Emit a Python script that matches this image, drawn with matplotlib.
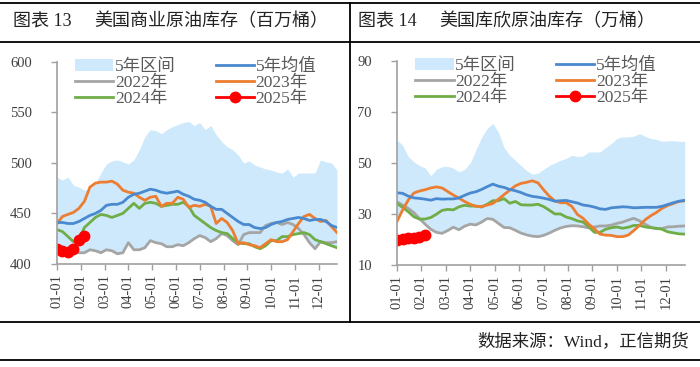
import numpy as np
import matplotlib
matplotlib.use('Agg')
import matplotlib.pyplot as plt
from matplotlib.lines import Line2D
from matplotlib.patches import Patch

plt.rcParams['font.family'] = ['Liberation Serif', 'Noto Sans CJK SC']

month_labels = ['01-01', '02-01', '03-01', '04-01', '05-01', '06-01',
                '07-01', '08-01', '09-01', '10-01', '11-01', '12-01']

# --- 美国商业原油库存（百万桶）, weekly ---
com_hi = [486, 483, 486, 478, 476, 473, 474, 480, 490, 499, 502, 503, 501, 499, 503, 513,
          526, 533, 532, 529, 533, 536, 538, 540, 541, 537, 540, 533, 537, 528, 521, 516,
          513, 508, 500, 502, 498, 496, 494, 493, 491, 490, 494, 486, 490, 490, 490, 490,
          503, 501, 500, 493]
com_lo = [415, 414, 413, 412, 411, 411, 414, 413, 411, 414, 413, 410, 411, 421, 414, 414,
          416, 423, 421, 420, 417, 417, 419, 418, 421, 425, 428, 426, 422, 425, 430, 427,
          423, 419, 420, 419, 417, 415, 418, 423, 422, 422, 424, 429, 430, 429, 421, 415,
          421, 420, 418, 416]
com_avg = [441, 441, 440, 440, 442, 445, 448, 450, 453, 458, 459, 459, 461, 466, 469, 470,
           472, 474, 473, 471, 470, 471, 472, 469, 467, 464, 463, 461, 457, 454, 454, 450,
           446, 442, 439, 439, 436, 435, 436, 439, 441, 442, 444, 445, 446, 445, 443, 444,
           444, 442, 438, 436]
com_2022 = [416, 415, 413, 412, 411, 411, 414, 413, 411, 414, 413, 410, 411, 421, 414, 414,
            416, 423, 421, 420, 417, 417, 419, 418, 421, 425, 428, 426, 422, 425, 430, 428,
            423, 419, 429, 431, 431, 431, 438, 440, 441, 439, 441, 439, 435, 429, 421, 415,
            422, 421, 421, 422]
com_2023 = [440, 447, 449, 451, 455, 462, 476, 480, 481, 481, 482, 479, 473, 471, 470, 466,
            463, 466, 467, 457, 460, 460, 466, 464, 456, 458, 457, 459, 457, 440, 445, 441,
            433, 420, 421, 419, 418, 416, 420, 424, 422, 422, 424, 432, 440, 447, 449, 445,
            442, 443, 437, 431]
com_2024 = [434, 432, 427, 422, 424, 436, 441, 446, 449, 448, 446, 448, 450, 455, 460, 455,
            460, 461, 460, 457, 458, 459, 459, 461, 457, 448, 444, 440, 436, 433, 431, 430,
            425, 421, 420, 420, 417, 415, 418, 423, 423, 427, 427, 429, 430, 431, 429, 424,
            422, 420, 418, 416]
com_2025 = [415, 413, 412, 415, 424, 428]

# --- 美国库欣原油库存（万桶）, weekly ---
cus_hi = [59, 57, 52.5, 50.5, 49, 48, 45, 47.5, 48.5, 48.7, 48, 46.5, 47.5, 50, 55, 60,
          63.5, 65.5, 62, 56, 53, 51, 49, 47, 45.6, 46, 47.5, 49, 50, 51, 51.8, 53,
          52.5, 52.7, 54.3, 54.3, 54.3, 56, 57.6, 59.6, 60.2, 60.2, 60.5, 61.5, 60.5, 59.6,
          59.2, 58.5, 58.7, 58.7, 58.5, 58.4]
cus_lo = [27, 31.5, 32, 29, 28, 26, 24, 22.8, 22.4, 23.5, 24.8, 23.8, 25.2, 26, 25.7, 26.8,
          28.2, 27.9, 26.3, 24.7, 24.6, 23.6, 22.5, 21.8, 21.3, 21.1, 21.6, 22.5, 23.6, 24.5,
          25.1, 25.4, 25.3, 25, 24.5, 22.8, 22.1, 21.7, 21.6, 21.1, 21.1, 21.7, 23.5, 25.5,
          24.9, 24.6, 24.2, 24, 23, 22.6, 22.2, 22.1]
cus_avg = [38.3, 38.1, 37, 36.3, 36.1, 35.8, 35.4, 36, 35.8, 35.9, 35.9, 36.3, 37.3, 38.2,
           38.7, 39.6, 40.7, 41.7, 40.9, 40.4, 39.6, 39.1, 38.4, 37.5, 36.9, 36.6, 36.2, 35.7,
           35, 35.2, 35.3, 34.8, 34.3, 33.5, 33.2, 32.7, 32, 31.8, 32.4, 32.6, 32.8, 32.7,
           32.4, 32.5, 32.6, 32.6, 32.6, 33, 33.7, 34.4, 35, 35.3]
cus_2022 = [34.8, 33.5, 32.2, 30.5, 28.2, 26, 24, 22.8, 22.4, 23.5, 24.8, 23.8, 25.2, 26,
            25.7, 26.8, 28.2, 27.9, 26.3, 24.7, 24.6, 23.6, 22.5, 21.8, 21.3, 21.1, 21.6,
            22.5, 23.6, 24.5, 25.1, 25.4, 25.3, 25, 24.5, 24.9, 25.3, 25.3, 25.6, 26.3, 26.8,
            27.6, 28.3, 27.3, 26, 24.8, 24.2, 24.3, 24.9, 25, 25.2, 25.3]
cus_2023 = [27, 31.5, 35.4, 38.2, 39, 39.5, 40.2, 40.6, 40.2, 38.8, 37.4, 36.2, 34.9, 33.8,
            33, 32.9, 33.5, 34.1, 35.8, 37.6, 39.3, 41, 42, 42.4, 43, 42.2, 39.5, 37, 35.1,
            34.4, 34.4, 33, 29.8, 28.3, 26, 24.2, 22.1, 21.7, 21.6, 21.1, 21.1, 21.7, 23.5,
            25.5, 27.7, 29.3, 30.6, 32.2, 33.3, 34.1, 34.9, 35.2]
cus_2024 = [34.1, 32.6, 30.9, 28.9, 28, 28, 28.6, 29.9, 31.4, 31.8, 31.6, 32.8, 33.4, 33.1,
            33.1, 32.7, 33.8, 35.2, 35.2, 36, 34.2, 34.9, 33.6, 33.5, 33.5, 33.8, 32.9, 31.5,
            30, 30, 28.8, 28.2, 27.3, 26.8, 25, 22.8, 22.8, 24, 24.6, 24.9, 24.4, 24.8, 25.5,
            25.5, 24.9, 24.6, 24.4, 24, 23, 22.6, 22.2, 22.1]
cus_2025 = [19.6, 20.3, 20.5, 20.7, 21.0, 21.8]

C_BAND = '#CDE9FB'
C_AVG = '#4A89CF'
C_22 = '#A5A5A5'
C_23 = '#ED7D31'
C_24 = '#70AD47'
C_25 = '#FF0000'
LW = 2.0
MS = 7.5


def draw(ax, hi, lo, avg, y22, y23, y24, y25, ylim, yticks):
    x = np.arange(len(hi))
    ax.fill_between(x, lo, hi, color=C_BAND, lw=0)
    ax.plot(x, y22, color=C_22, lw=LW)
    ax.plot(x, y24, color=C_24, lw=LW)
    ax.plot(x, y23, color=C_23, lw=LW)
    ax.plot(x, avg, color=C_AVG, lw=LW)
    ax.plot(np.arange(len(y25)), y25, color=C_25, lw=LW, marker='o', ms=MS)
    ax.set_xlim(0, len(hi) - 1)
    ax.set_ylim(*ylim)
    ax.set_yticks(yticks)
    ax.set_xticks(np.arange(12) * 52 / 12)
    ax.set_xticklabels(month_labels, rotation=90)
    for s in ['top', 'right']:
        ax.spines[s].set_visible(False)
    for s in ['left', 'bottom']:
        ax.spines[s].set_color('#A0A0A0')
        ax.spines[s].set_linewidth(1.2)
    ax.tick_params(axis='both', colors='#A0A0A0', labelcolor='#404040',
                   labelsize=10.5, length=4, width=1)
    ax.tick_params(axis='y', pad=14)

    handles = [Patch(facecolor=C_BAND, edgecolor='none'),
               Line2D([], [], color=C_22, lw=LW),
               Line2D([], [], color=C_24, lw=LW),
               Line2D([], [], color=C_AVG, lw=LW),
               Line2D([], [], color=C_23, lw=LW),
               Line2D([], [], color=C_25, lw=LW, marker='o', ms=MS)]
    labels = ['5年区间', '2022年', '2024年', '5年均值', '2023年', '2025年']
    ax.legend(handles, labels, ncol=2, loc='upper left', bbox_to_anchor=(0.04, 1.05),
              frameon=False, fontsize=12.5, labelspacing=0.0, handlelength=2.2,
              handletextpad=0.1, columnspacing=2.3, borderaxespad=0,
              labelcolor='#595959')


fig = plt.figure(figsize=(7, 3.67), dpi=100)
ax1 = fig.add_axes([0.0814, 0.281, 0.40, 0.550])
ax2 = fig.add_axes([0.567, 0.278, 0.411, 0.556])

draw(ax1, com_hi, com_lo, com_avg, com_2022, com_2023, com_2024, com_2025,
     (400, 600), [400, 450, 500, 550, 600])
draw(ax2, cus_hi, cus_lo, cus_avg, cus_2022, cus_2023, cus_2024, cus_2025,
     (10, 90), [10, 30, 50, 70, 90])

# frame lines
lk = dict(color='black', lw=1.3, transform=fig.transFigure)
fig.add_artist(Line2D([0, 1], [0.992, 0.992], **lk))
fig.add_artist(Line2D([0, 1], [0.886, 0.886], **lk))
fig.add_artist(Line2D([0.5, 0.5], [0.122, 0.992], **lk))
fig.add_artist(Line2D([0, 1], [0.122, 0.122], **lk))
fig.add_artist(Line2D([0, 1], [0.019, 0.019], **lk))

fig.text(0.018, 0.94, '图表 13', fontsize=13, va='center', ha='left', color='#222222')
fig.text(0.135, 0.94, '美国商业原油库存（百万桶）', fontsize=13,
         va='center', ha='left', color='#222222')
fig.text(0.512, 0.94, '图表 14', fontsize=13, va='center', ha='left', color='#222222')
fig.text(0.628, 0.94, '美国库欣原油库存（万桶）', fontsize=13,
         va='center', ha='left', color='#222222')
fig.text(0.985, 0.068, '数据来源：Wind，正信期货', fontsize=12.5,
         va='center', ha='right', color='#222222')

fig.savefig('out.png', dpi=100)
